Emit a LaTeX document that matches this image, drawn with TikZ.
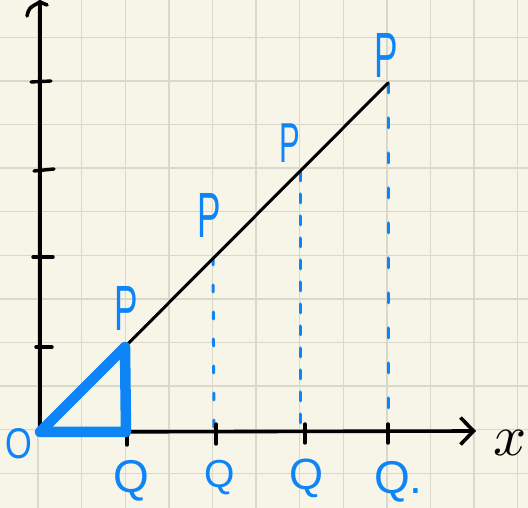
\documentclass[tikz,border=0pt]{standalone}
\usepackage{fontspec}
\setmainfont{Liberation Sans}
\usetikzlibrary{arrows.meta}
\definecolor{paper}{HTML}{F7F4E8}
\definecolor{gridc}{HTML}{DAD7CB}
\definecolor{pen}{HTML}{0D85F7}
\tikzset{
  axis/.style={line width=3.6pt, line cap=round, black},
  tick/.style={line width=3.4pt, line cap=round, black},
  thin/.style={line width=3pt, line cap=round, black},
  dashline/.style={line width=3pt, line cap=round, pen},
  tri/.style={line width=10.5pt, line cap=round, line join=round, pen},
  plabel/.style={text=pen, inner sep=0pt, font=\fontsize{64}{64}\selectfont, xscale=0.55},
  qlabel/.style={text=pen, inner sep=0pt, font=\fontsize{46}{46}\selectfont},
  olabel/.style={text=pen, inner sep=0pt, font=\fontsize{43}{43}\selectfont, xscale=0.8},
}
\begin{document}
\begin{tikzpicture}[x=1pt,y=1pt]
\useasboundingbox (0,0) rectangle (528,508);
\fill[paper] (0,0) rectangle (528,508);
\begin{scope}
\clip (0,0) rectangle (528,508);
\foreach \k in {-1,...,11} {
  \draw[gridc, line width=1.3pt] ({38.1+43.6*\k},0) -- ({38.1+43.6*\k},508);
  \draw[gridc, line width=1.3pt] (0,{470.7-43.6*\k}) -- (528,{470.7-43.6*\k});
}
\end{scope}
% key points
\coordinate (O) at (40,76);
\coordinate (P1) at (125,161);
\coordinate (P2) at (213,250);
\coordinate (P3) at (300,336);
\coordinate (P4) at (388,425);
\coordinate (Q1) at (126,76);
\coordinate (Q2) at (214,78);
\coordinate (Q3) at (300,78);
\coordinate (Q4) at (388,78);
\coordinate (Ytop) at (40,506);
\coordinate (Xend) at (476,77);
\coordinate (Yhook) at (27,492);
\coordinate (Yhook2) at (47,503);
% dashed drop lines
\draw[dashline, dash pattern=on 7pt off 20pt] (P2) -- (Q2);
\draw[dashline, dash pattern=on 9pt off 13pt] (P3) -- (Q3);
\draw[dashline, dash pattern=on 10pt off 25pt] (P4) -- (Q4);
% axes
\draw[axis] (O) -- (Ytop);
\draw[axis] (Yhook) .. controls (29,500) .. (Ytop) -- (Yhook2);
\draw[axis, -{Straight Barb[length=13pt,width=27pt]}] (O) -- (Xend);
% y ticks
\coordinate (ty1a) at (31,426); \coordinate (ty1b) at (51,427);
\coordinate (ty2a) at (34,337); \coordinate (ty2b) at (54,339);
\coordinate (ty3a) at (33,251); \coordinate (ty3b) at (53,251);
\coordinate (ty4a) at (36,161); \coordinate (ty4b) at (52,161);
\draw[tick] (ty1a) -- (ty1b);
\draw[tick] (ty2a) -- (ty2b);
\draw[tick] (ty3a) -- (ty3b);
\draw[tick] (ty4a) -- (ty4b);
% x ticks
\coordinate (tx1a) at (127,76); \coordinate (tx1b) at (127,63);
\coordinate (tx2a) at (216,84); \coordinate (tx2b) at (216,64);
\coordinate (tx3a) at (305,84); \coordinate (tx3b) at (305,65);
\coordinate (tx4a) at (388,84); \coordinate (tx4b) at (388,65);
\draw[tick] (tx1a) -- (tx1b);
\draw[tick] (tx2a) -- (tx2b);
\draw[tick] (tx3a) -- (tx3b);
\draw[tick] (tx4a) -- (tx4b);
% diagonal line
\draw[thin] (O) -- (P4);
% thick triangle
\draw[tri] (O) -- (P1) -- (Q1) -- cycle;
% labels
\node[plabel] (lP1) at (126,200) {P};
\node[plabel] (lP2) at (209,293) {P};
\node[plabel, scale=0.88] (lP3) at (290,365) {P};
\node[plabel] (lP4) at (386,453) {P};
\node[qlabel] (lQ1) at (131,27) {Q};
\node[qlabel, scale=0.85] (lQ2) at (220,30) {Q};
\node[qlabel, scale=0.95] (lQ3) at (306,30) {Q};
\node[qlabel, anchor=west] (lQ4) at (374,26) {Q.};
\node[olabel] (lO) at (19,64) {O};
\node[inner sep=0pt] (lx) at (510,65) {\scalebox{5.8}{$x$}};
\end{tikzpicture}
\end{document}
